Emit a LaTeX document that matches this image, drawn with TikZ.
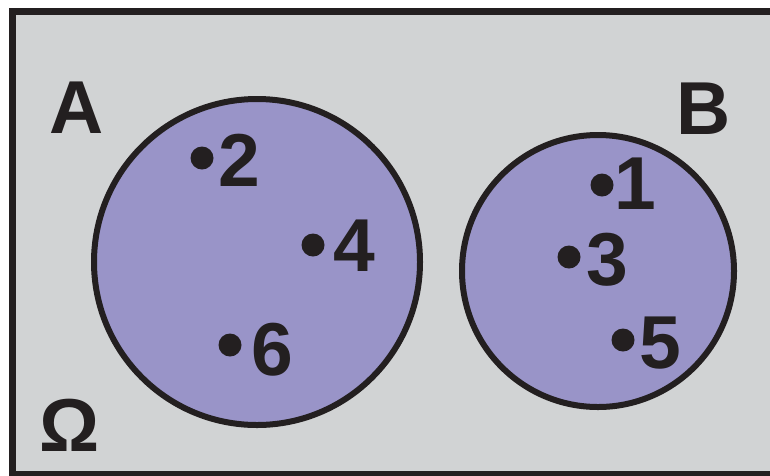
\documentclass[tikz,border=0pt]{standalone}
\usepackage{fontspec}
\setmainfont{Liberation Sans}
\definecolor{bggray}{HTML}{D1D3D4}
\definecolor{setpurple}{HTML}{9994C8}
\definecolor{ink}{HTML}{231F20}
\begin{document}
\begin{tikzpicture}[x=1pt,y=-1pt,
  setcirc/.style={circle,draw=ink,fill=setpurple,line width=6pt,inner sep=0pt},
  lbl/.style={inner sep=0pt,text=ink,font=\bfseries\fontsize{75}{75}\selectfont},
  dotpt/.style={circle,fill=ink,inner sep=0pt,minimum size=23pt}]
\useasboundingbox (0,0) rectangle (770,475);
\clip (0,0) rectangle (770,475);
\draw[line width=6.5pt,draw=ink,fill=bggray] (12.5,11.5) rectangle (800,474);
\node[setcirc,minimum size=326pt] (A) at (257,262) {};
\node[setcirc,minimum size=272pt] (B) at (598,271) {};
\node[lbl] (la) at (76.5,107.5) {A};
\node[lbl] (lb) at (703.5,108.5) {B};
\node[lbl] (lo) at (70,425.5) {Ω};
\node[dotpt] (d2) at (202,158) {};
\node[lbl] (n2) at (239,160) {2};
\node[dotpt] (d4) at (313,245) {};
\node[lbl] (n4) at (354,245.5) {4};
\node[dotpt] (d6) at (230,345) {};
\node[lbl] (n6) at (272.5,350) {6};
\node[dotpt] (d1) at (602,185) {};
\node[lbl] (n1) at (635,184) {1};
\node[dotpt] (d3) at (569,257) {};
\node[lbl] (n3) at (607,260) {3};
\node[dotpt] (d5) at (623,340) {};
\node[lbl] (n5) at (660,343) {5};
\end{tikzpicture}
\end{document}
